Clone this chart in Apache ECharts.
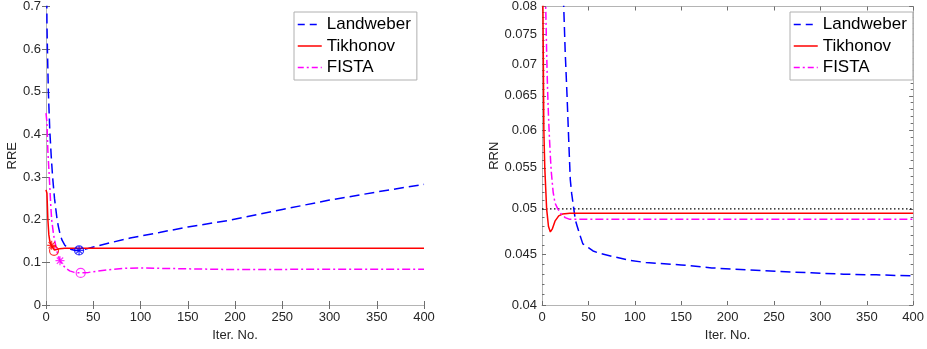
<!DOCTYPE html>
<html><head><meta charset="utf-8">
<script src="https://cdn.jsdelivr.net/npm/echarts@6/dist/echarts.min.js"></script>
<style>html,body{margin:0;padding:0;background:#fff}#c{width:927px;height:349px}</style>
</head><body><div id="c"></div>
<script>
// ---------- data ----------
const seriesNames = ['Landweber', 'Tikhonov', 'FISTA'];
const iterTicks = [0, 50, 100, 150, 200, 250, 300, 350, 400];
const rreTicks = [0, 0.1, 0.2, 0.3, 0.4, 0.5, 0.6, 0.7];
const rrnMajorTicks = [0.04, 0.045, 0.05, 0.055, 0.06, 0.065, 0.07, 0.075, 0.08];
const rrnMinorTicks = [0.041, 0.042, 0.043, 0.044, 0.046, 0.047, 0.048, 0.049,
  0.051, 0.052, 0.053, 0.054, 0.056, 0.057, 0.058, 0.059,
  0.061, 0.062, 0.063, 0.064, 0.066, 0.067, 0.068, 0.069,
  0.071, 0.072, 0.073, 0.074, 0.076, 0.077, 0.078, 0.079];

// RRE (left panel): [iteration, value]
const landweberRRE = [[0, 1.0], [1, 0.66], [1.5, 0.6], [2.5, 0.5], [4, 0.41], [5.5, 0.35], [7, 0.3], [9, 0.25],
  [11.5, 0.205], [13, 0.185], [15, 0.165], [17, 0.152], [20, 0.14], [23, 0.134], [27, 0.13], [31, 0.128],
  [35, 0.128], [42, 0.131], [50, 0.136], [70, 0.147], [89, 0.157], [120, 0.17], [150, 0.183], [195, 0.199],
  [250, 0.224], [300, 0.246], [350, 0.265], [400, 0.283]];
const tikhonovRRE = [[0, 0.27], [1, 0.262], [2, 0.2], [3, 0.165], [4, 0.15], [5, 0.143], [6, 0.139], [7, 0.135],
  [8, 0.131], [9, 0.129], [11, 0.13], [14, 0.132], [20, 0.133], [400, 0.133]];
const fistaRRE = [[0, 0.45], [1, 0.428], [2, 0.36], [3.5, 0.3], [5, 0.235], [6, 0.2], [8, 0.165], [9.5, 0.148],
  [12, 0.122], [15, 0.103], [18, 0.093], [21, 0.086], [25, 0.08], [30, 0.0765], [37, 0.0752], [45, 0.0765],
  [55, 0.0795], [70, 0.0835], [85, 0.0862], [100, 0.0868], [125, 0.0858], [150, 0.0848], [187, 0.0835],
  [250, 0.0835], [300, 0.0838], [400, 0.084]];
// optimal-stopping markers (left panel)
const landweberStarRRE = [[35, 0.128]];
const landweberCircleRRE = [[35, 0.128]];
const tikhonovStarRRE = [[6, 0.14]];
const tikhonovCircleRRE = [[8.5, 0.127]];
const fistaStarRRE = [[14.8, 0.104]];
const fistaCircleRRE = [[36.7, 0.0752]];

// RRN (right panel, log scale): [iteration, value]
const landweberRRN = [[1, 0.5], [10, 0.2], [18, 0.11], [21, 0.09], [23.4, 0.08], [25, 0.072], [27, 0.065],
  [29, 0.058], [30.5, 0.0535], [32, 0.0518], [34, 0.0502], [36, 0.0487], [38, 0.048], [41, 0.047], [44, 0.0461],
  [50, 0.0457], [55, 0.04535], [62, 0.0451], [75, 0.0448], [94, 0.04438], [112, 0.04414], [150, 0.0439],
  [183, 0.0436], [220, 0.0434], [254, 0.04324], [290, 0.0431], [325, 0.04297], [360, 0.0429], [400, 0.0428]];
const tikhonovRRN = [[0, 0.1], [1, 0.08], [2, 0.06], [3, 0.055], [5, 0.05], [7, 0.048], [9, 0.0474], [11, 0.0477],
  [14, 0.0486], [18, 0.0492], [22, 0.0494], [30, 0.0495], [400, 0.0495]];
const fistaRRN = [[1, 0.2], [3, 0.085], [4, 0.08], [5, 0.072], [6, 0.066], [7, 0.062], [8, 0.059], [9, 0.0565],
  [10, 0.0545], [12, 0.052], [14, 0.0507], [17, 0.05], [20, 0.0495], [25, 0.049], [30, 0.0488], [400, 0.0488]];
const noiseLevelRRN = [[0, 0.05], [400, 0.05]];

// ---------- chart ----------
const FONT = '"Liberation Sans", Helvetica, Arial, sans-serif';
const COLORS = {Landweber: '#0000ff', Tikhonov: '#ff0000', FISTA: '#ff00ff'};
const DASH = {Landweber: [10, 5], Tikhonov: 'solid', FISTA: [8, 3, 2, 3]};
const LEGEND_DASH = {Landweber: [7, 5], Tikhonov: 'solid', FISTA: [6, 3, 2, 3]};
const AXIS_LINE = '#b4b4b4';
const TICK = '#6e6e6e';
const LABEL = '#262626';
const lg10 = v => Math.log10(v);

function xAxes(gi) {
  return [
    {gridIndex: gi, type: 'value', position: 'bottom', min: 0, max: 400, interval: 50,
     name: 'Iter. No.', nameLocation: 'middle', nameGap: 22,
     nameTextStyle: {fontFamily: FONT, fontSize: 13, color: LABEL},
     axisLine: {show: true, lineStyle: {color: AXIS_LINE, width: 1}},
     axisTick: {inside: true, length: 4, lineStyle: {color: TICK}},
     axisLabel: {fontFamily: FONT, fontSize: 13, color: LABEL, margin: 6,
       customValues: iterTicks},
     splitLine: {show: false}},
    {gridIndex: gi, type: 'value', position: 'top', min: 0, max: 400, interval: 50,
     axisLine: {show: true, lineStyle: {color: AXIS_LINE, width: 1}},
     axisTick: {inside: true, length: 4, lineStyle: {color: TICK}},
     axisLabel: {show: false}, splitLine: {show: false}}
  ];
}

const yAxesLeft = [
  {gridIndex: 0, type: 'value', position: 'left', min: 0, max: 0.7, interval: 0.1,
   name: 'RRE', nameLocation: 'middle', nameGap: 23,
   nameTextStyle: {fontFamily: FONT, fontSize: 13, color: LABEL},
   axisLine: {show: true, lineStyle: {color: AXIS_LINE, width: 1}},
   axisTick: {inside: true, length: 4, lineStyle: {color: TICK}, customValues: rreTicks},
   axisLabel: {fontFamily: FONT, fontSize: 13, color: LABEL, margin: 5, customValues: rreTicks,
     formatter: v => String(+v.toFixed(2))},
   splitLine: {show: false}},
  {gridIndex: 0, type: 'value', position: 'right', min: 0, max: 0.7, interval: 0.1,
   axisLine: {show: true, lineStyle: {color: AXIS_LINE, width: 1}},
   axisTick: {inside: true, length: 4, lineStyle: {color: TICK}, customValues: rreTicks},
   axisLabel: {show: false}, splitLine: {show: false}}
];

const lmin = lg10(0.04), lmax = lg10(0.08);
function logY(pos, major, withLabel) {
  const ax = {gridIndex: 1, type: 'value', position: pos, min: lmin, max: lmax,
    axisLine: {show: major, lineStyle: {color: AXIS_LINE, width: 1}},
    axisTick: {inside: true, length: major ? 4 : 2.5, lineStyle: {color: TICK},
      customValues: (major ? rrnMajorTicks : rrnMinorTicks).map(lg10)},
    axisLabel: {show: false}, splitLine: {show: false}};
  if (withLabel) {
    ax.name = 'RRN'; ax.nameLocation = 'middle'; ax.nameGap = 40;
    ax.nameTextStyle = {fontFamily: FONT, fontSize: 13, color: LABEL};
    ax.axisLabel = {show: true, fontFamily: FONT, fontSize: 13, color: LABEL, margin: 5,
      customValues: rrnMajorTicks.map(lg10),
      formatter: v => String(+Math.pow(10, v).toFixed(3))};
  }
  return ax;
}
const yAxesRight = [logY('left', true, true), logY('left', false, false), logY('right', true, false), logY('right', false, false)];

function lineSeries(name, data, xi, yi, transform) {
  return {type: 'line', name: name, xAxisIndex: xi, yAxisIndex: yi,
    data: transform ? data.map(p => [p[0], lg10(p[1])]) : data,
    showSymbol: false, symbol: 'none', smooth: false, clip: true,
    lineStyle: {color: COLORS[name], width: 1.5, type: DASH[name]},
    itemStyle: {color: COLORS[name]}, z: 3};
}
const STAR = 'path://M5,0L5,10M0,5L10,5M1.5,1.5L8.5,8.5M1.5,8.5L8.5,1.5';
function markerSeries(id, color, data, shape) {
  return {type: 'scatter', name: id, xAxisIndex: 0, yAxisIndex: 0, data: data,
    symbol: shape === 'star' ? STAR : 'circle', symbolSize: 9,
    itemStyle: {color: 'rgba(0,0,0,0)', borderColor: color, borderWidth: 1.2}, z: 5, silent: true};
}

function legendAt(left) {
  return {
    data: seriesNames.map(n => ({name: n,
      lineStyle: {color: COLORS[n], width: 1.5, type: LEGEND_DASH[n]},
      itemStyle: {opacity: 0, color: 'rgba(0,0,0,0)', borderWidth: 0}})),
    orient: 'vertical', left: left, top: 12,
    itemWidth: 24, itemHeight: 14, itemGap: 0.5,
    itemStyle: {opacity: 0, color: 'rgba(0,0,0,0)', borderWidth: 0},
    padding: [2, 6, 2, 3], borderColor: '#b0b0b0', borderWidth: 1, backgroundColor: '#fff',
    textStyle: {fontFamily: FONT, fontSize: 17, color: '#000', lineHeight: 21}};
}

const option = {
  animation: false,
  backgroundColor: '#fff',
  grid: [
    {left: 46, right: 503, top: 5, bottom: 44},
    {left: 542, right: 8, top: 5, bottom: 44}
  ],
  xAxis: [...xAxes(0), ...xAxes(1)],
  yAxis: [...yAxesLeft, ...yAxesRight],
  legend: [legendAt(294), legendAt(790)],
  series: [
    lineSeries('Landweber', landweberRRE, 0, 0, false),
    lineSeries('Tikhonov', tikhonovRRE, 0, 0, false),
    lineSeries('FISTA', fistaRRE, 0, 0, false),
    markerSeries('lwStar', COLORS.Landweber, landweberStarRRE, 'star'),
    markerSeries('lwCircle', COLORS.Landweber, landweberCircleRRE, 'circle'),
    markerSeries('tkStar', COLORS.Tikhonov, tikhonovStarRRE, 'star'),
    markerSeries('tkCircle', COLORS.Tikhonov, tikhonovCircleRRE, 'circle'),
    markerSeries('fsStar', COLORS.FISTA, fistaStarRRE, 'star'),
    markerSeries('fsCircle', COLORS.FISTA, fistaCircleRRE, 'circle'),
    {type: 'line', name: 'noise', xAxisIndex: 2, yAxisIndex: 2,
     data: noiseLevelRRN.map(p => [p[0], lg10(p[1])]), symbol: 'none',
     lineStyle: {color: '#000', width: 1.2, type: [1.5, 2.5]}, z: 2},
    lineSeries('Landweber', landweberRRN, 2, 2, true),
    lineSeries('Tikhonov', tikhonovRRN, 2, 2, true),
    lineSeries('FISTA', fistaRRN, 2, 2, true)
  ]
};
const chart = echarts.init(document.getElementById('c'), null, {renderer: 'canvas'});
chart.setOption(option);
</script></body></html>
